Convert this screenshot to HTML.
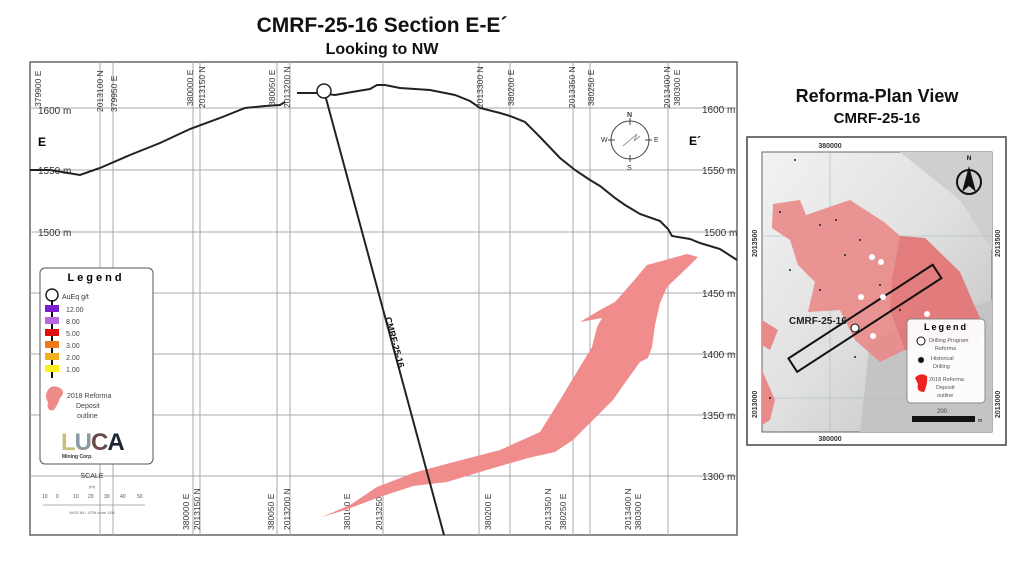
<!DOCTYPE html>
<html><head><meta charset="utf-8"><style>
html,body{margin:0;padding:0;background:#fff;width:1024px;height:571px;overflow:hidden}
svg{display:block;font-family:"Liberation Sans",sans-serif}
</style></head><body>
<svg width="1024" height="571" viewBox="0 0 1024 571" xmlns="http://www.w3.org/2000/svg">
<rect width="1024" height="571" fill="#fff"/>
<text x="382" y="32" font-size="21" font-weight="bold" text-anchor="middle" fill="#111">CMRF-25-16  Section E-E´</text>
<text x="382" y="54" font-size="16" font-weight="bold" text-anchor="middle" fill="#111">Looking to NW</text>

<rect x="30" y="62" width="707" height="473" fill="#fff" stroke="#666" stroke-width="1.5"/>
<g stroke="#aaa" stroke-width="1">
<line x1="30" y1="108" x2="737" y2="108"/><line x1="30" y1="170" x2="737" y2="170"/>
<line x1="30" y1="232" x2="737" y2="232"/><line x1="30" y1="293" x2="737" y2="293"/>
<line x1="30" y1="354" x2="737" y2="354"/><line x1="30" y1="415" x2="737" y2="415"/>
<line x1="30" y1="476" x2="737" y2="476"/>
<line x1="100" y1="62" x2="100" y2="535"/><line x1="113" y1="62" x2="113" y2="535"/>
<line x1="193" y1="62" x2="193" y2="535"/><line x1="200" y1="62" x2="200" y2="535"/>
<line x1="277" y1="62" x2="277" y2="535"/><line x1="290" y1="62" x2="290" y2="535"/>
<line x1="383" y1="62" x2="383" y2="535"/><line x1="479" y1="62" x2="479" y2="535"/>
<line x1="510" y1="62" x2="510" y2="535"/><line x1="573" y1="62" x2="573" y2="535"/>
<line x1="590" y1="62" x2="590" y2="535"/><line x1="668" y1="62" x2="668" y2="535"/>
</g>
<g font-size="8.5" fill="#333">
<text transform="translate(41,107) rotate(-90)">379900 E</text>
<text transform="translate(103,112) rotate(-90)">2013100 N</text>
<text transform="translate(117,112) rotate(-90)">379950 E</text>
<text transform="translate(193,106) rotate(-90)">380000 E</text>
<text transform="translate(205,108) rotate(-90)">2013150 N</text>
<text transform="translate(275,106) rotate(-90)">380050 E</text>
<text transform="translate(290,108) rotate(-90)">2013200 N</text>
<text transform="translate(483,108) rotate(-90)">2013300 N</text>
<text transform="translate(514,106) rotate(-90)">380200 E</text>
<text transform="translate(575,108) rotate(-90)">2013350 N</text>
<text transform="translate(594,106) rotate(-90)">380250 E</text>
<text transform="translate(670,108) rotate(-90)">2013400 N</text>
<text transform="translate(680,106) rotate(-90)">380300 E</text>
<text transform="translate(189,530) rotate(-90)">380000 E</text>
<text transform="translate(200,530) rotate(-90)">2013150 N</text>
<text transform="translate(274,530) rotate(-90)">380050 E</text>
<text transform="translate(290,530) rotate(-90)">2013200 N</text>
<text transform="translate(350,530) rotate(-90)">380100 E</text>
<text transform="translate(382,530) rotate(-90)">2013250 N</text>
<text transform="translate(491,530) rotate(-90)">380200 E</text>
<text transform="translate(551,530) rotate(-90)">2013350 N</text>
<text transform="translate(566,530) rotate(-90)">380250 E</text>
<text transform="translate(631,530) rotate(-90)">2013400 N</text>
<text transform="translate(641,530) rotate(-90)">380300 E</text>
</g>
<g font-size="10" fill="#333">
<text x="38" y="114">1600 m</text><text x="38" y="174">1550 m</text><text x="38" y="236">1500 m</text>
<text x="702" y="113">1600 m</text><text x="702" y="174">1550 m</text><text x="704" y="236">1500 m</text>
<text x="702" y="297">1450 m</text><text x="702" y="358">1400 m</text><text x="702" y="419">1350 m</text><text x="702" y="480">1300 m</text>
</g>
<text x="38" y="146" font-size="12" font-weight="bold">E</text>
<text x="689" y="145" font-size="12" font-weight="bold">E´</text>

<!-- deposit -->
<path d="M322,517 L350,505 L377,487 L413,473 L450,463 L500,450 L540,432 L560,400 L575,375 L592,347 L597,327 L602,318 L580,322 L600,310 L615,302 L630,285 L647,265 L687,254 L698,257 L690,265 L667,287 L660,303 L655,325 L652,347 L648,358 L640,362 L627,380 L613,400 L593,420 L573,440 L555,452 L528,458 L480,472 L447,482 L413,486 L377,498 L345,510 Z" fill="#f08c8c"/>

<polyline fill="none" stroke="#222" stroke-width="2" points="30,170 50,170 80,175 100,168 130,155 160,143 190,129 220,118 245,108 265,106 280,105 285,102"/>
<polyline fill="none" stroke="#222" stroke-width="2" points="297,93 318,93 335,95 352,92 370,89 377,85 385,85 400,88 430,90 455,95 470,101 480,108 500,113 510,116 525,122 540,137 560,158 575,170 590,180 600,186 615,198 625,205 640,214 660,221 668,229 672,236 690,239 700,243 720,249 737,260"/>
<line x1="324" y1="91" x2="444" y2="535" stroke="#222" stroke-width="2"/>
<circle cx="324" cy="91" r="7" fill="#fff" stroke="#222" stroke-width="1.5"/>
<text transform="translate(385,318) rotate(74.9)" font-size="9" font-weight="bold" fill="#111">CMRF-25-16</text>

<g stroke="#444" fill="none" stroke-width="1">
<circle cx="630" cy="140" r="19"/>
<line x1="630" y1="118" x2="630" y2="125"/><line x1="630" y1="155" x2="630" y2="162"/>
<line x1="608" y1="140" x2="615" y2="140"/><line x1="645" y1="140" x2="652" y2="140"/>
<path d="M623,146 L637,134 L634,141 L640,136" stroke="#999"/>
</g>
<g font-size="7" fill="#333"><text x="627" y="117" font-weight="bold">N</text><text x="601" y="142">W</text><text x="654" y="142">E</text><text x="627" y="170">S</text></g>

<rect x="40" y="268" width="113" height="196" rx="5" fill="#fff" stroke="#555" stroke-width="1"/>
<text x="96" y="281" font-size="11" font-weight="bold" text-anchor="middle" letter-spacing="3">Legend</text>
<circle cx="52" cy="295" r="6" fill="#fff" stroke="#222" stroke-width="1.5"/>
<text x="62" y="299" font-size="7" fill="#333">AuEq g/t</text>
<line x1="52" y1="300" x2="52" y2="378" stroke="#111" stroke-width="2"/>
<g font-size="7" fill="#444">
<rect x="45" y="305" width="14" height="7" fill="#7a1fd0"/><text x="66" y="312">12.00</text>
<rect x="45" y="317" width="14" height="7" fill="#b866e0"/><text x="66" y="324">8.00</text>
<rect x="45" y="329" width="14" height="7" fill="#e01010"/><text x="66" y="336">5.00</text>
<rect x="45" y="341" width="14" height="7" fill="#f07a1a"/><text x="66" y="348">3.00</text>
<rect x="45" y="353" width="14" height="7" fill="#f0b020"/><text x="66" y="360">2.00</text>
<rect x="45" y="365" width="14" height="7" fill="#f8f020"/><text x="66" y="372">1.00</text>
</g>
<path d="M48,390 Q52,384 60,388 Q66,392 60,398 Q58,404 54,410 Q46,412 48,402 Q44,396 48,390Z" fill="#ee8a8a"/>
<g font-size="7" fill="#444"><text x="67" y="398">2018 Reforma</text><text x="76" y="408">Deposit</text><text x="77" y="418">outline</text></g>
<text x="61" y="450" font-size="24" font-weight="900" fill="#2a3040" letter-spacing="-1"><tspan fill="#c8c07a">L</tspan><tspan fill="#8a9aa0">U</tspan><tspan fill="#6a4a4a">C</tspan><tspan fill="#1e2636">A</tspan></text>
<text x="62" y="458" font-size="5" font-weight="bold" fill="#333">Mining Corp.</text>
<text x="92" y="478" font-size="7" text-anchor="middle" fill="#333">SCALE</text>
<text x="92" y="488" font-size="4" text-anchor="middle" fill="#555">(m)</text>
<g font-size="5" fill="#555"><text x="42" y="498">10</text><text x="56" y="498">0</text><text x="73" y="498">10</text><text x="88" y="498">20</text><text x="104" y="498">30</text><text x="120" y="498">40</text><text x="137" y="498">50</text></g>
<line x1="43" y1="505" x2="145" y2="505" stroke="#666" stroke-width="0.6"/>
<text x="92" y="514" font-size="4" text-anchor="middle" fill="#666">WGS 84 / UTM zone 14N</text>

<text x="877" y="102" font-size="18" font-weight="bold" text-anchor="middle" fill="#111">Reforma-Plan View</text>
<text x="877" y="123" font-size="15" font-weight="bold" text-anchor="middle" fill="#111">CMRF-25-16</text>
<rect x="747" y="137" width="259" height="308" fill="#fff" stroke="#444" stroke-width="1.5"/>
<defs><linearGradient id="hs" x1="0" y1="0" x2="1" y2="1"><stop offset="0" stop-color="#f2f2f2"/><stop offset="0.5" stop-color="#e0e0e0"/><stop offset="1" stop-color="#bdbdbd"/></linearGradient></defs>
<rect x="762" y="152" width="230" height="280" fill="url(#hs)" stroke="#666"/>
<path d="M900,152 L992,152 L992,250 L960,200 Z" fill="#cfcfcf"/>
<path d="M870,340 L992,300 L992,432 L860,432 Z" fill="#c4c4c4"/>
<line x1="830" y1="152" x2="830" y2="432" stroke="#9bb" stroke-width="0.6"/>
<line x1="762" y1="236" x2="992" y2="236" stroke="#9bb" stroke-width="0.6"/>
<line x1="762" y1="398" x2="992" y2="398" stroke="#9bb" stroke-width="0.6"/>
<path d="M773,204 L800,200 L806,215 L850,200 L884,222 L900,236 L925,238 L960,272 L985,330 L975,345 L940,345 L905,350 L880,362 L855,340 L840,310 L808,312 L815,282 L798,265 L790,240 L772,228 Z" fill="#e98a8a" opacity="0.9"/>
<path d="M900,236 L925,238 L960,272 L985,330 L975,345 L905,350 L890,310 L892,280 Z" fill="#d66" opacity="0.5"/>
<path d="M762,320 L778,330 L770,350 L762,345Z M762,370 L775,400 L770,420 L762,425Z" fill="#e98a8a"/>
<g transform="rotate(-33 866 320)"><rect x="780" y="310" width="172" height="16" fill="none" stroke="#111" stroke-width="2"/></g>
<circle cx="855" cy="328" r="4" fill="#fff" stroke="#111"/>
<text x="789" y="324" font-size="10" font-weight="bold" fill="#222">CMRF-25-16</text>
<g fill="#fff"><circle cx="872" cy="257" r="3"/><circle cx="881" cy="262" r="3"/><circle cx="861" cy="297" r="3"/><circle cx="883" cy="297" r="3"/><circle cx="927" cy="314" r="3"/><circle cx="873" cy="336" r="3"/></g>
<g fill="#222"><circle cx="795" cy="160" r="1"/><circle cx="780" cy="212" r="1"/><circle cx="820" cy="225" r="1"/><circle cx="836" cy="220" r="1"/><circle cx="860" cy="240" r="1"/><circle cx="845" cy="255" r="1"/><circle cx="880" cy="285" r="1"/><circle cx="820" cy="290" r="1"/><circle cx="790" cy="270" r="1"/><circle cx="900" cy="310" r="1"/><circle cx="855" cy="357" r="1"/><circle cx="770" cy="398" r="1"/></g>
<circle cx="969" cy="182" r="12" fill="none" stroke="#111" stroke-width="2"/>
<path d="M969,166 L962,192 L969,186 L976,192Z" fill="#111"/>
<text x="969" y="160" font-size="6" font-weight="bold" text-anchor="middle">N</text>
<rect x="907" y="319" width="78" height="84" rx="4" fill="#fff" stroke="#888" opacity="0.95"/>
<text x="946" y="330" font-size="9" font-weight="bold" text-anchor="middle" letter-spacing="2">Legend</text>
<circle cx="921" cy="341" r="4" fill="#fff" stroke="#111"/>
<g font-size="5.5" fill="#555"><text x="929" y="342">Drilling Program</text><text x="935" y="350">Reforma</text><text x="931" y="360">Historical</text><text x="933" y="368">Drilling</text><text x="929" y="381">2018 Reforma</text><text x="936" y="389">Deposit</text><text x="937" y="397">outline</text></g>
<circle cx="921" cy="360" r="3" fill="#111"/>
<path d="M915,378 Q920,372 927,376 Q928,384 924,392 Q916,392 918,384Z" fill="#e22"/>
<text x="942" y="413" font-size="6" text-anchor="middle" fill="#444">200</text>
<rect x="912" y="416" width="63" height="6" fill="#111"/>
<text x="978" y="422" font-size="5">m</text>
<g font-size="7" font-weight="bold" fill="#333">
<text x="830" y="148" text-anchor="middle">380000</text>
<text x="830" y="441" text-anchor="middle">380000</text>
<text transform="translate(757,257) rotate(-90)">2013500</text>
<text transform="translate(1000,257) rotate(-90)">2013500</text>
<text transform="translate(757,418) rotate(-90)">2013000</text>
<text transform="translate(1000,418) rotate(-90)">2013000</text>
</g>
</svg>
</body></html>
